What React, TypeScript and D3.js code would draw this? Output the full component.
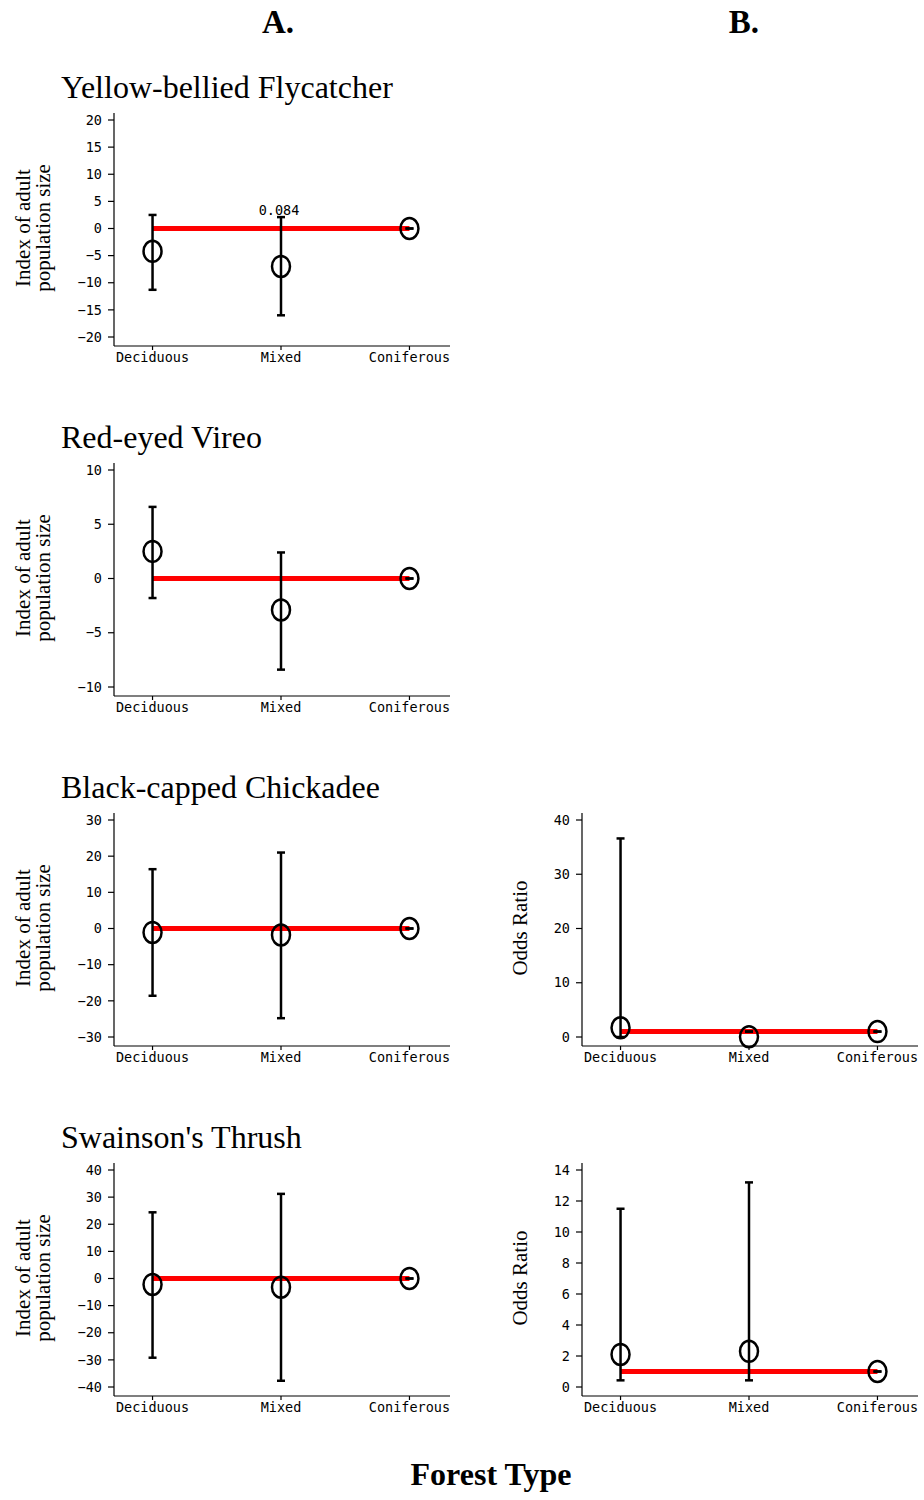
import React from "react";
import { scaleLinear, scalePoint } from "d3";

const categories = ["Deciduous", "Mixed", "Coniferous"];

// A. index of adult population size (point, lower, upper)
const flycatcherIndex = [-4.2, -7.0, 0];
const flycatcherLow = [-11.3, -16.0, 0];
const flycatcherHigh = [2.5, 2.1, 0];
const flycatcherTicks = [-20, -15, -10, -5, 0, 5, 10, 15, 20];

const vireoIndex = [2.5, -2.9, 0];
const vireoLow = [-1.8, -8.4, 0];
const vireoHigh = [6.6, 2.4, 0];
const vireoTicks = [-10, -5, 0, 5, 10];

const chickadeeIndex = [-1.1, -1.8, 0];
const chickadeeLow = [-18.6, -24.8, 0];
const chickadeeHigh = [16.4, 21.0, 0];
const chickadeeTicks = [-30, -20, -10, 0, 10, 20, 30];

const thrushIndex = [-2.2, -3.2, 0];
const thrushLow = [-29.2, -37.7, 0];
const thrushHigh = [24.4, 31.2, 0];
const thrushTicks = [-40, -30, -20, -10, 0, 10, 20, 30, 40];

// B. odds ratio
const chickadeeOdds = [1.7, 0.05, 1];
const chickadeeOddsLow = [0.0, 1.0, 1];
const chickadeeOddsHigh = [36.6, 1.0, 1];
const chickadeeOddsTicks = [0, 10, 20, 30, 40];

const thrushOdds = [2.1, 2.3, 1];
const thrushOddsLow = [0.43, 0.43, 1];
const thrushOddsHigh = [11.5, 13.2, 1];
const thrushOddsTicks = [0, 2, 4, 6, 8, 10, 12, 14];

const species = ["Yellow-bellied Flycatcher", "Red-eyed Vireo", "Black-capped Chickadee", "Swainson's Thrush"];

const mono = "'DejaVu Sans Mono', monospace";
const serif = "'Liberation Serif', 'Times New Roman', serif";

function Panel({ left, top, ticks, values, low, high, refValue, ylabel, note }) {
  const w = 336;
  const x = scalePoint().domain(categories).range([left, left + 334]).padding(0.3);
  const y = scaleLinear()
    .domain([ticks[0], ticks[ticks.length - 1]])
    .range([top + 224, top + 7]);
  const bottom = top + 233;
  const midY = top + 115;

  return (
    <g>
      {/* y label */}
      {ylabel.length === 2 ? (
        <>
          <text transform={`translate(${left - 84.5},${midY}) rotate(-90)`} textAnchor="middle" fontFamily={serif} fontSize={21}>
            {ylabel[0]}
          </text>
          <text transform={`translate(${left - 64},${midY}) rotate(-90)`} textAnchor="middle" fontFamily={serif} fontSize={21}>
            {ylabel[1]}
          </text>
        </>
      ) : (
        <text transform={`translate(${left - 55},${midY}) rotate(-90)`} textAnchor="middle" fontFamily={serif} fontSize={21}>
          {ylabel[0]}
        </text>
      )}

      {/* axes */}
      <line x1={left} x2={left} y1={top} y2={bottom} stroke="#000" strokeWidth={1.2} />
      <line x1={left} x2={left + w} y1={bottom} y2={bottom} stroke="#000" strokeWidth={1.2} />
      {ticks.map((t) => (
        <g key={t}>
          <line x1={left - 6} x2={left} y1={y(t)} y2={y(t)} stroke="#000" strokeWidth={1.2} />
          <text x={left - 12} y={y(t)} dy="0.35em" textAnchor="end" fontFamily={mono} fontSize={13.5}>
            {String(t).replace("-", "\u2212")}
          </text>
        </g>
      ))}
      {categories.map((c) => (
        <g key={c}>
          <line x1={x(c)} x2={x(c)} y1={bottom} y2={bottom + 4} stroke="#000" strokeWidth={1.2} />
          <text x={x(c)} y={bottom + 16} textAnchor="middle" fontFamily={mono} fontSize={13.5}>
            {c}
          </text>
        </g>
      ))}

      {/* reference line */}
      <line
        x1={x(categories[0])}
        x2={x(categories[2])}
        y1={y(refValue)}
        y2={y(refValue)}
        stroke="#ff0000"
        strokeWidth={5}
      />

      {/* error bars and points */}
      {categories.map((c, i) => (
        <g key={c} stroke="#000" strokeWidth={2.5} fill="none">
          <line x1={x(c)} x2={x(c)} y1={y(low[i])} y2={y(high[i])} />
          <line x1={x(c) - 4} x2={x(c) + 4} y1={y(low[i])} y2={y(low[i])} />
          <line x1={x(c) - 4} x2={x(c) + 4} y1={y(high[i])} y2={y(high[i])} />
          <ellipse cx={x(c)} cy={y(values[i])} rx={9} ry={10.5} />
        </g>
      ))}

      {note && (
        <text x={x(categories[1]) - 2} y={y(high[1]) - 2} textAnchor="middle" fontFamily={mono} fontSize={13.5}>
          {note}
        </text>
      )}
    </g>
  );
}

export default function App() {
  const leftA = 114;
  const leftB = 582;
  const tops = [113, 463, 813, 1163];
  const indexLabel = ["Index of adult", "population size"];

  return (
    <svg width={924} height={1500} style={{ position: "absolute", left: 0, top: 0, background: "#fff" }}>
      <rect width={924} height={1500} fill="#fff" />
      <text x={278} y={33} textAnchor="middle" fontFamily={serif} fontWeight="bold" fontSize={33}>A.</text>
      <text x={744} y={33} textAnchor="middle" fontFamily={serif} fontWeight="bold" fontSize={33}>B.</text>

      {species.map((s, i) => (
        <text key={s} x={61} y={tops[i] - 15} fontFamily={serif} fontSize={32}>
          {s}
        </text>
      ))}

      <Panel left={leftA} top={tops[0]} ticks={flycatcherTicks} values={flycatcherIndex} low={flycatcherLow} high={flycatcherHigh} refValue={0} ylabel={indexLabel} note="0.084" />
      <Panel left={leftA} top={tops[1]} ticks={vireoTicks} values={vireoIndex} low={vireoLow} high={vireoHigh} refValue={0} ylabel={indexLabel} />
      <Panel left={leftA} top={tops[2]} ticks={chickadeeTicks} values={chickadeeIndex} low={chickadeeLow} high={chickadeeHigh} refValue={0} ylabel={indexLabel} />
      <Panel left={leftA} top={tops[3]} ticks={thrushTicks} values={thrushIndex} low={thrushLow} high={thrushHigh} refValue={0} ylabel={indexLabel} />

      <Panel left={leftB} top={tops[2]} ticks={chickadeeOddsTicks} values={chickadeeOdds} low={chickadeeOddsLow} high={chickadeeOddsHigh} refValue={1} ylabel={["Odds Ratio"]} />
      <Panel left={leftB} top={tops[3]} ticks={thrushOddsTicks} values={thrushOdds} low={thrushOddsLow} high={thrushOddsHigh} refValue={1} ylabel={["Odds Ratio"]} />

      <text x={491} y={1485} textAnchor="middle" fontFamily={serif} fontWeight="bold" fontSize={32}>Forest Type</text>
    </svg>
  );
}
